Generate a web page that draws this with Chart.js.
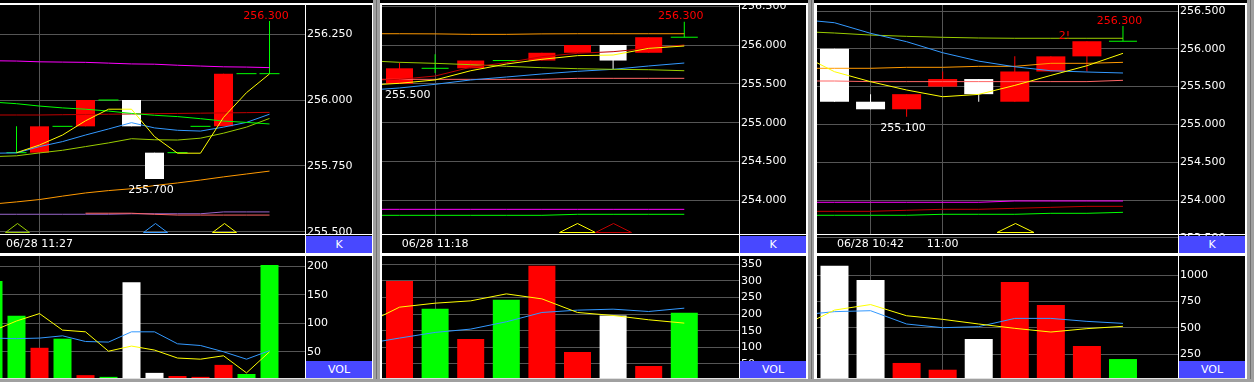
<!DOCTYPE html>
<html><head><meta charset="utf-8">
<script src="https://cdn.jsdelivr.net/npm/chart.js@4.4.0/dist/chart.umd.min.js"></script>
<style>
html,body{margin:0;padding:0;background:#000;width:1254px;height:382px;overflow:hidden;position:relative;}
canvas{position:absolute;display:block;}
.r{position:absolute;z-index:10;}
.box{position:absolute;z-index:11;background:#4848ff;color:#fff;font:11px 'DejaVu Sans';text-align:center;line-height:17px;height:17px;}
</style></head><body>
<script>
// ================= DATA =================
// ---- Panel 1 (index 0 = bar partly off the left edge) ----
const p1Open  = [null, 255.8, 255.8, 255.9, 255.9, 256.0, 256.0, 255.8, 255.8, 255.9, 255.9, 256.1, 256.1];
const p1Close = [null, 255.8, 255.9, 255.9, 256.0, 256.0, 255.9, 255.7, 255.8, 255.9, 256.1, 256.1, 256.1];
const p1High  = [null, 255.9, 255.9, 255.9, 256.0, 256.0, 256.0, 255.8, 255.8, 255.9, 256.1, 256.1, 256.3];
const p1Low   = [null, 255.8, 255.8, 255.9, 255.9, 256.0, 255.9, 255.7, 255.8, 255.9, 255.9, 256.1, 256.1];
const p1Vol   = [174, 113, 57, 73, 9, 6, 172, 13, 7.5, 6, 27, 11, 202];
const p1VolDir= ['f','f','u','f','u','f','d','d','u','u','u','f','f'];
const p1LineA = [256.149,256.148,256.145,256.144,256.143,256.140,256.137,256.136,256.132,256.129,256.126,256.125,256.123];
const p1LineB = [255.992,255.986,255.977,255.970,255.965,255.958,255.949,255.942,255.937,255.929,255.920,255.915,255.909];
const p1LineC = [255.943,255.943,255.943,255.944,255.945,255.946,255.947,255.948,255.949,255.950,255.951,255.952,255.953];
const p1LineD = [255.798,255.799,255.823,255.842,255.867,255.890,255.914,255.894,255.885,255.882,255.897,255.915,255.946];
const p1LineE = [255.785,255.788,255.799,255.809,255.823,255.837,255.853,255.849,255.848,255.855,255.874,255.897,255.930];
const p1LineF = [null,255.800,255.829,255.867,255.921,255.965,255.965,255.861,255.798,255.798,255.934,256.028,256.099];
const p1LineG = [255.605,255.613,255.622,255.635,255.647,255.656,255.663,255.675,255.685,255.696,255.708,255.719,255.730];
const p1LineH = [255.566,255.566,255.566,255.566,255.566,255.566,255.568,255.568,255.568,255.568,255.575,255.575,255.575];
const p1LineI = [null,null,null,null,255.570,255.570,255.570,255.566,255.563,255.563,255.563,255.563,255.563];
const p1VolMaY = [87,104,117,88,85,51,60,53,39,37,43,13,50];
const p1VolMaB = [74,73,74,78,68,67,85,85,64,61,50,37,52];
const p1SignalIdx = [1, 7, 10];
const p1TickIdx = [2];
const p1TickLabels = ['06/28 11:27'];
const p1PriceTicks = [255.5, 255.75, 256.0, 256.25];
const p1VolTicks = [50, 100, 150, 200];

// ---- Panel 2 ----
const p2Open  = [null, 255.5, 255.7, 255.7, 255.8, 255.8, 255.9, 256.0, 255.9, 256.1];
const p2Close = [null, 255.7, 255.7, 255.8, 255.8, 255.9, 256.0, 255.8, 256.1, 256.1];
const p2High  = [null, 255.77, 255.88, 255.8, 255.8, 255.9, 256.0, 256.0, 256.1, 256.3];
const p2Low   = [null, 255.5, 255.64, 255.7, 255.8, 255.8, 255.9, 255.69, 255.9, 256.1];
const p2Vol   = [null, 300, 216, 125, 243, 346, 86, 196, 44, 204];
const p2VolDir= ['f','u','f','u','f','u','u','d','u','f'];
const p2LineA = [256.145,256.145,256.143,256.137,256.137,256.143,256.145,256.145,256.145,256.145];
const p2LineB = [255.545,255.558,255.601,255.713,255.772,255.850,255.893,255.914,255.957,256.000];
const p2LineC = [255.480,255.507,255.550,255.669,255.755,255.816,255.863,255.871,255.957,255.987];
const p2LineD = [255.800,255.777,255.764,255.747,255.726,255.708,255.695,255.687,255.682,255.669];
const p2LineE = [255.415,255.447,255.494,255.550,255.588,255.627,255.661,255.687,255.730,255.768];
const p2LineF = [255.558,255.558,255.558,255.558,255.558,255.558,255.571,255.571,255.571,255.571];
const p2LineG = [253.885,253.885,253.885,253.885,253.885,253.885,253.885,253.885,253.885,253.885];
const p2LineH = [253.808,253.808,253.808,253.808,253.808,253.808,253.821,253.821,253.821,253.821];
const p2VolMaY = [168,221,233,240,261,246,205,196,183,173];
const p2VolMaB = [110,128,145,155,177,205,212,215,208,218];
const p2SignalIdx = [6, 7];
const p2TickIdx = [2];
const p2TickLabels = ['06/28 11:18'];
const p2PriceTicks = [254.0, 254.5, 255.0, 255.5, 256.0, 256.5];
const p2VolTicks = [50, 100, 150, 200, 250, 300, 350];

// ---- Panel 3 ----
const p3Open  = [null, 256.0, 255.3, 255.2, 255.5, 255.6, 255.3, 255.7, 255.9, 256.1];
const p3Close = [null, 255.3, 255.2, 255.4, 255.6, 255.4, 255.7, 255.9, 256.1, 256.1];
const p3High  = [null, 256.0, 255.4, 255.4, 255.7, 255.6, 255.9, 255.9, 256.1, 256.3];
const p3Low   = [null, 255.3, 255.2, 255.1, 255.5, 255.3, 255.3, 255.7, 255.7, 256.1];
const p3Vol   = [null, 1089, 953, 168, 104, 395, 935, 717, 329, 205];
const p3VolDir= ['f','d','d','u','u','d','u','u','u','f'];
const p3LineA = [256.390,256.345,256.205,256.094,255.948,255.837,255.762,255.710,255.693,255.680];
const p3LineB = [256.230,256.209,256.182,256.165,256.152,256.143,256.139,256.139,256.139,256.139];
const p3LineC = [255.742,255.742,255.742,255.755,255.755,255.768,255.768,255.808,255.808,255.821];
const p3LineD = [255.574,255.574,255.566,255.566,255.566,255.566,255.566,255.566,255.566,255.583];
const p3LineE = [255.940,255.697,255.565,255.455,255.366,255.397,255.516,255.648,255.776,255.940];
const p3LineF = [253.970,253.970,253.970,253.970,253.970,253.970,253.987,253.987,253.987,253.987];
const p3LineG = [253.850,253.850,253.850,253.864,253.877,253.877,253.890,253.903,253.916,253.916];
const p3LineH = [253.798,253.798,253.798,253.798,253.811,253.811,253.811,253.824,253.824,253.837];
const p3VolMaY = [500,669,721,615,581,537,496,461,493,515];
const p3VolMaB = [620,654,663,537,502,512,590,590,562,543];
const p3SignalIdx = [6];
const p3TickIdx = [2, 4];
const p3TickLabels = ['06/28 10:42', '11:00'];
const p3PriceTicks = [253.5, 254.0, 254.5, 255.0, 255.5, 256.0, 256.5];
const p3VolTicks = [250, 500, 750, 1000];
const p3Notes = [{i: 8, v: 256.1, text: '2!'}];

// ================= STYLE / RENDER =================
const FONT = 'DejaVu Sans';
Chart.defaults.font.family = FONT;
Chart.defaults.font.size = 11;
Chart.defaults.color = '#ffffff';
const GRID = '#555555';
const UP = '#ff0000', DOWN = '#ffffff', FLAT = '#00ff00';
const MAG = '#ff00ff', GRN = '#00ff00', DRED = '#c00000', BLUE = '#3399ff', OLIVE = '#99cc00',
      YEL = '#ffff00', ORG = '#ff9900', PURP = '#9966cc', SALM = '#ff6666';
const dirColor = {u: UP, d: DOWN, f: FLAT};
function candleColor(o, c) { return c > o ? UP : (c < o ? DOWN : FLAT); }

function mkCanvas(left, top, w, h) {
  const c = document.createElement('canvas');
  c.width = w; c.height = h;
  c.style.left = left + 'px'; c.style.top = top + 'px';
  c.style.width = w + 'px'; c.style.height = h + 'px';
  document.body.appendChild(c);
  return c;
}
function rect(x, y, w, h, col) {
  const d = document.createElement('div'); d.className = 'r';
  d.style.cssText = `left:${x}px;top:${y}px;width:${w}px;height:${h}px;background:${col};`;
  document.body.appendChild(d);
}
function box(x, y, w, text) {
  const d = document.createElement('div'); d.className = 'box';
  d.style.left = x + 'px'; d.style.top = y + 'px'; d.style.width = w + 'px';
  d.textContent = text;
  document.body.appendChild(d);
}

const marksPlugin = {
  id: 'marks',
  afterDatasetsDraw(chart, args, opts) {
    const {ctx, chartArea: a} = chart;
    const x = chart.scales.x, y = chart.scales.y;
    ctx.save();
    ctx.beginPath(); ctx.rect(a.left, a.top, a.right - a.left, a.bottom - a.top); ctx.clip();
    (opts.signals || []).forEach(s => {
      const cx = Math.round(x.getPixelForValue(s.i)) + 0.5;
      const base = a.bottom - 1.5, apex = a.bottom - 10.5;
      ctx.strokeStyle = s.color; ctx.lineWidth = 1;
      ctx.beginPath(); ctx.moveTo(cx - s.w / 2, base); ctx.lineTo(cx, apex); ctx.lineTo(cx + s.w / 2, base);
      ctx.closePath(); ctx.stroke();
    });
    ctx.font = '11px ' + FONT;
    ctx.textAlign = 'center'; ctx.textBaseline = 'alphabetic';
    (opts.texts || []).forEach(t => {
      const tw = ctx.measureText(t.text).width;
      let cx = x.getPixelForValue(t.i) + t.dx;
      cx = Math.max(cx, a.left + 3 + tw / 2);
      const py = y.getPixelForValue(t.v);
      ctx.fillStyle = t.color;
      ctx.fillText(t.text, cx, t.pos === 'above' ? py - 2.5 : py + 14);
    });
    ctx.restore();
    // time labels under the plot area
    if (opts.timeTicks) {
      ctx.save();
      ctx.font = '11px ' + FONT; ctx.fillStyle = '#ffffff';
      ctx.textAlign = 'center'; ctx.textBaseline = 'alphabetic';
      opts.timeTicks.forEach(t => ctx.fillText(t.label, x.getPixelForValue(t.i), a.bottom + 13));
      ctx.restore();
    }
  }
};

function fixY(w) { return s => { s.width = w; s.paddingTop = 0; s.paddingBottom = 0; s.paddingLeft = 0; s.paddingRight = 0; }; }
function fixX(h) { return s => { s.height = h; s.paddingTop = 0; s.paddingBottom = 0; s.paddingLeft = 0; s.paddingRight = 0; }; }

function xScale(P, h) {
  return {
    type: 'linear', position: 'bottom', min: P.xMin, max: P.xMax, offset: false,
    grid: {color: GRID, lineWidth: 1, drawTicks: false, offset: false},
    border: {display: false},
    ticks: {display: false},
    afterBuildTicks: s => { s.ticks = P.tickIdx.map(v => ({value: v})); },
    afterFit: fixX(h)
  };
}
function yScale(min, max, ticks, fmt) {
  return {
    type: 'linear', position: 'right', min: min, max: max, beginAtZero: false,
    grid: {color: GRID, lineWidth: 1, drawTicks: false},
    border: {display: false},
    ticks: {color: '#fff', padding: 2, autoSkip: false, callback: fmt},
    afterBuildTicks: s => { s.ticks = ticks.map(v => ({value: v})); },
    afterFit: fixY(67)
  };
}
function lineDs(arr, color) {
  return {type: 'line', data: arr.map((v, i) => ({x: i, y: v})), borderColor: color, borderWidth: 1,
          pointRadius: 0, tension: 0, order: 0, clip: 0, spanGaps: false};
}
const baseOpts = {
  responsive: false, animation: false, devicePixelRatio: 1, events: [],
  layout: {padding: 0, autoPadding: false}
};

function buildPanel(P) {
  const n = P.close.length;
  const idx = [...Array(n).keys()];
  const has = idx.filter(i => P.close[i] != null);
  const body = has.filter(i => P.open[i] !== P.close[i]);
  const doji = has.filter(i => P.open[i] === P.close[i]);

  let hi = has[0], lo = has[0];
  has.forEach(i => { if (P.high[i] > P.high[hi]) hi = i; if (P.low[i] < P.low[lo]) lo = i; });
  const texts = [
    {i: hi, v: P.high[hi], text: P.high[hi].toFixed(3), color: UP, pos: 'above', dx: -3.5},
    {i: lo, v: P.low[lo], text: P.low[lo].toFixed(3), color: '#ffffff', pos: 'below', dx: -3.5}
  ].concat((P.notes || []).map(t => ({i: t.i, v: t.v, text: t.text, color: UP, pos: 'above', dx: -22.5})));

  const ds = P.lines.map(l => lineDs(l.data, l.color));
  ds.push({type: 'line', data: doji.map(i => ({x: i, y: P.close[i]})), showLine: false, pointStyle: 'line',
           pointRadius: P.dojiR, pointBorderColor: FLAT, pointBackgroundColor: FLAT, pointBorderWidth: 1, order: 1, clip: 0});
  ds.push({type: 'bar', data: body.map(i => ({x: i, y: [P.open[i], P.close[i]]})),
           backgroundColor: body.map(i => candleColor(P.open[i], P.close[i])),
           barThickness: P.candleW, grouped: false, inflateAmount: 0, borderWidth: 0, order: 2, clip: 0});
  ds.push({type: 'bar', data: has.map(i => ({x: i, y: [P.low[i], P.high[i]]})),
           backgroundColor: has.map(i => candleColor(P.open[i], P.close[i])),
           barThickness: 1, grouped: false, inflateAmount: 0, borderWidth: 0, order: 3, clip: 0});

  new Chart(mkCanvas(P.left, 5, P.width, 248), {
    type: 'bar',
    data: {datasets: ds},
    options: Object.assign({}, baseOpts, {
      plugins: {legend: {display: false}, tooltip: {enabled: false},
        marks: {texts: texts,
                signals: P.signalIdx.map((i, k) => ({i: i, color: P.signalColors[k], w: P.signalW})),
                timeTicks: P.tickIdx.map((i, k) => ({i: i, label: P.tickLabels[k]}))}},
      scales: {x: xScale(P, 19), y: yScale(P.yMin, P.yMax, P.priceTicks, v => v.toFixed(3))}
    }),
    plugins: [marksPlugin]
  });

  const vHas = idx.filter(i => P.vol[i] != null);
  new Chart(mkCanvas(P.left, 256, P.width, 122), {
    type: 'bar',
    data: {datasets: [
      lineDs(P.volMaY, YEL),
      lineDs(P.volMaB, BLUE),
      {type: 'bar', data: vHas.map(i => ({x: i, y: P.vol[i]})),
       backgroundColor: vHas.map(i => dirColor[P.volDir[i]]),
       barThickness: P.volW, grouped: false, inflateAmount: 0, borderWidth: 0, order: 2, clip: 0}
    ]},
    options: Object.assign({}, baseOpts, {
      plugins: {legend: {display: false}, tooltip: {enabled: false}},
      scales: {x: xScale(P, 0), y: yScale(P.vMin, P.vMax, P.volTicks, v => String(v))}
    })
  });
}

buildPanel({
  left: 0, width: 372, xMin: 0.2826, xMax: 13.543, yMin: 255.4911, yMax: 256.3608, vMin: 4, vMax: 218,
  candleW: 19, volW: 18, dojiR: 10, signalW: 24,
  open: p1Open, close: p1Close, high: p1High, low: p1Low, vol: p1Vol, volDir: p1VolDir,
  volMaY: p1VolMaY, volMaB: p1VolMaB,
  lines: [{data: p1LineF, color: YEL}, {data: p1LineA, color: MAG}, {data: p1LineB, color: GRN}, {data: p1LineC, color: DRED},
          {data: p1LineD, color: BLUE}, {data: p1LineE, color: OLIVE}, {data: p1LineG, color: ORG},
          {data: p1LineI, color: SALM}, {data: p1LineH, color: PURP}],
  signalIdx: p1SignalIdx, signalColors: [OLIVE, BLUE, YEL],
  tickIdx: p1TickIdx, tickLabels: p1TickLabels, priceTicks: p1PriceTicks, volTicks: p1VolTicks
});
buildPanel({
  left: 382, width: 424, xMin: 0.508, xMax: 10.537, yMin: 253.5676, yMax: 256.5148, vMin: 7.8, vMax: 375,
  candleW: 27, volW: 27, dojiR: 13.5, signalW: 36,
  open: p2Open, close: p2Close, high: p2High, low: p2Low, vol: p2Vol, volDir: p2VolDir,
  volMaY: p2VolMaY, volMaB: p2VolMaB,
  lines: [{data: p2LineC, color: YEL}, {data: p2LineB, color: DRED}, {data: p2LineA, color: ORG}, {data: p2LineD, color: OLIVE},
          {data: p2LineE, color: BLUE}, {data: p2LineF, color: SALM}, {data: p2LineG, color: MAG}, {data: p2LineH, color: GRN}],
  signalIdx: p2SignalIdx, signalColors: [YEL, DRED],
  tickIdx: p2TickIdx, tickLabels: p2TickLabels, priceTicks: p2PriceTicks, volTicks: p2VolTicks
});
buildPanel({
  left: 817, width: 428, xMin: 0.515, xMax: 10.526, yMin: 253.5503, yMax: 256.5794, vMin: 25.6, vMax: 1181,
  candleW: 29, volW: 28, dojiR: 14, signalW: 37,
  open: p3Open, close: p3Close, high: p3High, low: p3Low, vol: p3Vol, volDir: p3VolDir,
  volMaY: p3VolMaY, volMaB: p3VolMaB, notes: p3Notes,
  lines: [{data: p3LineE, color: YEL}, {data: p3LineA, color: BLUE}, {data: p3LineB, color: OLIVE}, {data: p3LineC, color: ORG},
          {data: p3LineD, color: SALM}, {data: p3LineF, color: MAG}, {data: p3LineG, color: DRED}, {data: p3LineH, color: GRN}],
  signalIdx: p3SignalIdx, signalColors: [YEL],
  tickIdx: p3TickIdx, tickLabels: p3TickLabels, priceTicks: p3PriceTicks, volTicks: p3VolTicks
});

// ---- frames ----
const G = '#a0a0a0', GD = '#707070', W = '#ffffff';
rect(373, 0, 7, 382, G); rect(376, 0, 1, 382, GD);
rect(808, 0, 6, 382, G); rect(811, 0, 1, 382, GD);
rect(1247, 0, 7, 382, G); rect(1250, 0, 1, 382, GD);
rect(0, 379, 1254, 3, G);
const panels = [
  {l0: 0, lb: 0, sep: 305, r: 372, rb: 1},
  {l0: 380, lb: 2, sep: 739, r: 806, rb: 2},
  {l0: 814, lb: 3, sep: 1178, r: 1245, rb: 2}
];
panels.forEach(p => {
  const x1 = p.r + p.rb;
  rect(p.l0, 3, x1 - p.l0, 2, W);
  if (p.lb) rect(p.l0, 3, p.lb, 376, W);
  rect(p.r, 3, p.rb, 376, W);
  rect(p.sep, 5, 1, 373, W);
  rect(p.l0 + p.lb, 234, p.r - p.l0 - p.lb, 1, W);
  rect(p.l0 + p.lb, 253, p.r - p.l0 - p.lb, 3, W);
  rect(p.l0 + p.lb, 378, p.r - p.l0 - p.lb, 1, '#e0e0e0');
  box(p.sep + 1, 236, p.r - p.sep - 1, 'K');
  box(p.sep + 1, 361, p.r - p.sep - 1, 'VOL');
});
</script>
</body></html>
